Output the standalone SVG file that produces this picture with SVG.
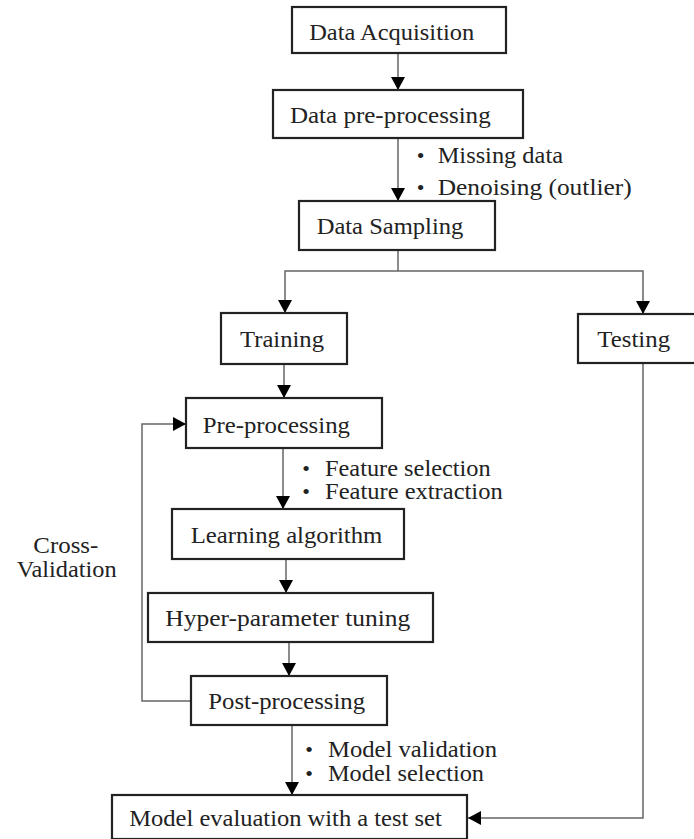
<svg xmlns="http://www.w3.org/2000/svg" width="694" height="839" viewBox="0 0 694 839">
<style>
.box{fill:#fff;stroke:#222;stroke-width:2.2}
.lbl{font-family:"Liberation Serif","Times New Roman",serif;font-size:23px;fill:#222;text-anchor:middle}
.note{font-family:"Liberation Serif","Times New Roman",serif;font-size:23px;fill:#222}
.blt{font-family:"Liberation Serif","Times New Roman",serif;font-size:22px;fill:#222;text-anchor:middle}
.con{fill:none;stroke:#666;stroke-width:1.5}
.arr{marker-end:url(#ah)}
</style>
<defs>
<marker id="ah" viewBox="0 0 13 14" refX="13" refY="7" markerWidth="13" markerHeight="14" markerUnits="userSpaceOnUse" orient="auto">
<path d="M0,0 L13,7 L0,14 Z" fill="#000"/>
</marker>
</defs>
<rect width="694" height="839" fill="#fff"/>

<g id="connectors">
<line class="con arr" x1="398" y1="53" x2="398" y2="90"/>
<line class="con arr" x1="398" y1="138" x2="398" y2="201"/>
<polyline class="con" points="398,250 398,271"/>
<polyline class="con arr" points="398,271 285,271 285,313"/>
<polyline class="con arr" points="398,271 643,271 643,314"/>
<line class="con arr" x1="284" y1="364" x2="284" y2="398"/>
<line class="con arr" x1="283" y1="448" x2="283" y2="509"/>
<line class="con arr" x1="286" y1="559" x2="286" y2="593"/>
<line class="con arr" x1="289" y1="642" x2="289" y2="676"/>
<line class="con arr" x1="292" y1="725" x2="292" y2="795"/>
<polyline class="con arr" points="643,363 643,818 468,818"/>
<polyline class="con arr" points="191,701 142,701 142,424 186,424"/>
</g>

<g id="n-acq"><rect class="box" x="292" y="7" width="214" height="46"/><text class="lbl" x="391.7" y="39.5" textLength="165" lengthAdjust="spacingAndGlyphs">Data Acquisition</text></g>
<g id="n-dpre"><rect class="box" x="273" y="90" width="250" height="48"/><text class="lbl" x="390.3" y="123" textLength="200.7" lengthAdjust="spacingAndGlyphs">Data pre-processing</text></g>
<g id="n-samp"><rect class="box" x="299" y="201" width="196" height="49"/><text class="lbl" x="390" y="234" textLength="146.7" lengthAdjust="spacingAndGlyphs">Data Sampling</text></g>
<g id="n-train"><rect class="box" x="221" y="313" width="126" height="51"/><text class="lbl" x="282" y="347.3" textLength="84" lengthAdjust="spacingAndGlyphs">Training</text></g>
<g id="n-test"><rect class="box" x="578" y="314" width="129" height="49"/><text class="lbl" x="633.7" y="346.7" textLength="72.7" lengthAdjust="spacingAndGlyphs">Testing</text></g>
<g id="n-pre"><rect class="box" x="186" y="398" width="196" height="50"/><text class="lbl" x="276.3" y="433" textLength="147.3" lengthAdjust="spacingAndGlyphs">Pre-processing</text></g>
<g id="n-learn"><rect class="box" x="172" y="509" width="232" height="50"/><text class="lbl" x="286.5" y="542.7" textLength="191.7" lengthAdjust="spacingAndGlyphs">Learning algorithm</text></g>
<g id="n-hyper"><rect class="box" x="148" y="593" width="285" height="49"/><text class="lbl" x="287.8" y="625.7" textLength="245" lengthAdjust="spacingAndGlyphs">Hyper-parameter tuning</text></g>
<g id="n-post"><rect class="box" x="191" y="676" width="196" height="49"/><text class="lbl" x="286.7" y="709.3" textLength="156.7" lengthAdjust="spacingAndGlyphs">Post-processing</text></g>
<g id="n-eval"><rect class="box" x="112" y="795" width="355" height="44"/><text class="lbl" x="285.5" y="826" textLength="312.4" lengthAdjust="spacingAndGlyphs">Model evaluation with a test set</text></g>

<g id="notes">
<text class="blt" x="420.7" y="162.5">•</text><text class="note" x="437.7" y="162.5" textLength="125.3" lengthAdjust="spacingAndGlyphs">Missing data</text>
<text class="blt" x="420.7" y="195">•</text><text class="note" x="437.7" y="195" textLength="194" lengthAdjust="spacingAndGlyphs">Denoising (outlier)</text>
<text class="blt" x="306" y="475.7">•</text><text class="note" x="325" y="475.7" textLength="165.7" lengthAdjust="spacingAndGlyphs">Feature selection</text>
<text class="blt" x="306" y="499.3">•</text><text class="note" x="325" y="499.3" textLength="177.7" lengthAdjust="spacingAndGlyphs">Feature extraction</text>
<text class="blt" x="309" y="756.7">•</text><text class="note" x="328" y="756.7" textLength="169" lengthAdjust="spacingAndGlyphs">Model validation</text>
<text class="blt" x="309" y="781">•</text><text class="note" x="328" y="781" textLength="156" lengthAdjust="spacingAndGlyphs">Model selection</text>
<text class="lbl" x="65.8" y="552.7" textLength="65" lengthAdjust="spacingAndGlyphs">Cross-</text>
<text class="lbl" x="66.7" y="577.3" textLength="100" lengthAdjust="spacingAndGlyphs">Validation</text>
</g>
</svg>
